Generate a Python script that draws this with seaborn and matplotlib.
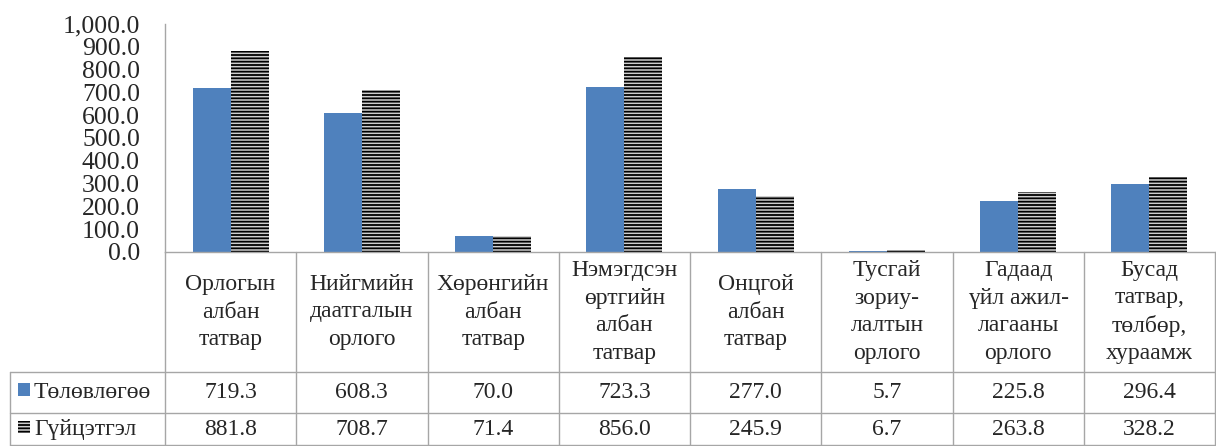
import matplotlib
matplotlib.use("Agg")
import matplotlib.pyplot as plt
from matplotlib.patches import Rectangle
from matplotlib.transforms import blended_transform_factory
import pandas as pd
import seaborn as sns

# data
categories = ["Орлогын\nалбан\nтатвар", "Нийгмийн\nдаатгалын\nорлого",
              "Хөрөнгийн\nалбан\nтатвар", "Нэмэгдсэн\nөртгийн\nалбан\nтатвар",
              "Онцгой\nалбан\nтатвар", "Тусгай\nзориу-\nлалтын\nорлого",
              "Гадаад\nүйл ажил-\nлагааны\nорлого", "Бусад\nтатвар,\nтөлбөр,\nхураамж"]
series = ["Төлөвлөгөө", "Гүйцэтгэл"]
plan = [719.3, 608.3, 70.0, 723.3, 277.0, 5.7, 225.8, 296.4]
actual = [881.8, 708.7, 71.4, 856.0, 245.9, 6.7, 263.8, 328.2]
yticks = list(range(0, 1001, 100))

blue = "#4F81BD"
grid_c = "#a6a6a6"

df = pd.DataFrame({
    "cat": list(range(len(categories))) * 2,
    "value": plan + actual,
    "series": [series[0]] * len(plan) + [series[1]] * len(actual),
})

sns.set_style("white")
plt.rcParams["font.family"] = ["Liberation Serif", "DejaVu Serif"]
plt.rcParams["hatch.linewidth"] = 1.3

fig = plt.figure(figsize=(12.16, 4.46), dpi=100)
ax = fig.add_axes([165 / 1216, 194 / 446, 1050 / 1216, 228 / 446])

sns.barplot(data=df, x="cat", y="value", hue="series", palette=[blue, "#cfcfcf"],
            width=0.58, saturation=1, legend=False, ax=ax, gap=0)

for bar in ax.containers[1]:
    bar.set_hatch("-----")
    bar.set_edgecolor("black")
    bar.set_linewidth(0)
for bar in ax.containers[0]:
    bar.set_linewidth(0)

ax.set_xlim(-0.5, len(categories) - 0.5)
ax.set_ylim(0, 1000)
ax.set_yticks(yticks)
ax.set_yticklabels([f"{v:,.1f}" for v in yticks], fontsize=18.5)
ax.tick_params(axis="y", length=0, pad=18)
ax.set_xticks([])
ax.set_xlabel("")
ax.set_ylabel("")
for s in ["top", "right"]:
    ax.spines[s].set_visible(False)
for s in ["left", "bottom"]:
    ax.spines[s].set_color(grid_c)
    ax.spines[s].set_linewidth(1)

# data table below the bars
trans = blended_transform_factory(ax.transData, fig.transFigure)
y_axis = 194 / 446
y_head = 74 / 446
y_row1 = 33 / 446
y_bot = 0.002
n = len(categories)
lc = dict(color=grid_c, lw=1, clip_on=False)

for i in range(n + 1):
    ax.plot([i - 0.5, i - 0.5], [y_bot, y_axis], transform=trans, **lc)
for yy in [y_head, y_row1, y_bot]:
    fig.add_artist(plt.Line2D([10 / 1216, 1215 / 1216], [yy, yy], **lc))
fig.add_artist(plt.Line2D([10 / 1216, 10 / 1216], [y_bot, y_head], **lc))

for i, lab in enumerate(categories):
    ax.text(i, (y_axis + y_head) / 2, lab, transform=trans, ha="center", va="center",
            fontsize=17, linespacing=1.4)
    ax.text(i, (y_head + y_row1) / 2, f"{plan[i]:.1f}", transform=trans,
            ha="center", va="center", fontsize=17)
    ax.text(i, (y_row1 + y_bot) / 2, f"{actual[i]:.1f}", transform=trans,
            ha="center", va="center", fontsize=17)

# row labels with legend keys
fig.add_artist(Rectangle((18 / 1216, 50 / 446), 12 / 1216, 13 / 446,
                         facecolor=blue, lw=0))
fig.add_artist(Rectangle((18 / 1216, 13 / 446), 12 / 1216, 12 / 446,
                         facecolor="#cfcfcf", hatch="-----", edgecolor="black", lw=0))
fig.text(34 / 1216, (y_head + y_row1) / 2, series[0], ha="left", va="center", fontsize=17)
fig.text(34 / 1216, (y_row1 + y_bot) / 2, series[1], ha="left", va="center", fontsize=17)

fig.savefig("out.png", dpi=100)
